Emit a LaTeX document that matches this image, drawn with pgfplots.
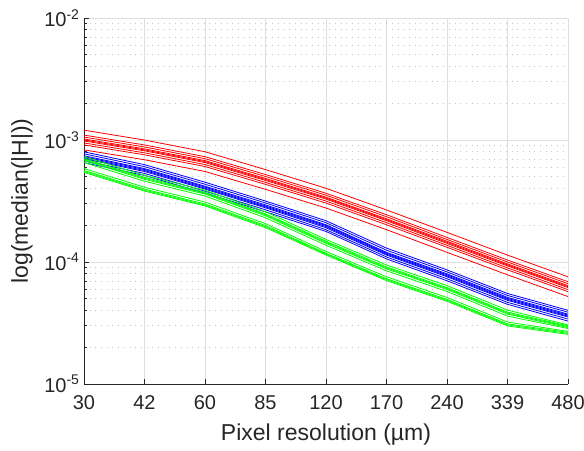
\documentclass[border=0pt]{standalone}
\usepackage{fontspec}
\setmainfont{Liberation Sans}
\usepackage{pgfplots}
\pgfplotsset{compat=1.18}

\definecolor{axgray}{gray}{0.15}
\definecolor{gridgray}{gray}{0.87}
\definecolor{mred}{rgb}{1,0,0}
\definecolor{mblue}{rgb}{0,0,1}
\definecolor{mgreen}{rgb}{0,1,0}

\begin{document}
\begin{tikzpicture}
\useasboundingbox (-84bp,-67bp) rectangle (500bp,384bp);
\begin{axis}[
    at={(0,0)}, anchor=south west,
    scale only axis, width=484bp, height=366bp,
    ymode=log, ymin=1e-5, ymax=1e-2,
    xmin=0, xmax=8,
    xtick={0,1,2,3,4,5,6,7,8},
    xticklabels={30,42,60,85,120,170,240,339,480},
    ytick={1e-5,1e-4,1e-3,1e-2},
    yticklabels={10\textsuperscript{-5},10\textsuperscript{-4},10\textsuperscript{-3},10\textsuperscript{-2}},
    axis x line*=bottom, axis y line*=left,
    axis line style={axgray, line width=0.7bp},
    every tick/.style={axgray, line width=0.7bp},
    tick align=inside,
    major tick length=5bp, minor tick length=3bp,
    xmajorgrids, ymajorgrids, yminorgrids,
    major grid style={gridgray, line width=0.7bp},
    minor grid style={gray!45, line width=0.7bp, dash pattern=on 0.7bp off 5bp},
    ticklabel style={font=\fontsize{20bp}{23bp}\selectfont, text=axgray},
    xticklabel style={yshift=-8bp},
    yticklabel style={xshift=-1bp},
    xlabel={Pixel resolution (µm)},
    ylabel={log(median(|H|))},
    label style={font=\fontsize{23bp}{26bp}\selectfont, text=axgray, inner sep=0pt},
    xlabel style={at={(axis description cs:0.5,-0.153)}, anchor=base},
    ylabel style={at={(axis description cs:-0.1054,0.5)}, anchor=south},
    every axis plot/.append style={line width=0.8bp, no markers},
]

% red group
\addplot[mred] coordinates {(0,1.204e-3)(1,9.99e-4)(2,8.01e-4)(3,5.72e-4)(4,4.02e-4)(5,2.67e-4)(6,1.75e-4)(7,1.139e-4)(8,7.56e-5)};
\addplot[mred] coordinates {(0,1.097e-3)(1,9.11e-4)(2,7.30e-4)(3,5.21e-4)(4,3.66e-4)(5,2.44e-4)(6,1.59e-4)(7,1.038e-4)(8,6.89e-5)};
\addplot[mred] coordinates {(0,1.057e-3)(1,8.77e-4)(2,7.03e-4)(3,5.02e-4)(4,3.53e-4)(5,2.35e-4)(6,1.53e-4)(7,1.000e-4)(8,6.64e-5)};
\addplot[mred] coordinates {(0,1.019e-3)(1,8.46e-4)(2,6.78e-4)(3,4.84e-4)(4,3.40e-4)(5,2.26e-4)(6,1.48e-4)(7,9.64e-5)(8,6.40e-5)};
\addplot[mred] coordinates {(0,1.000e-3)(1,8.30e-4)(2,6.65e-4)(3,4.75e-4)(4,3.34e-4)(5,2.22e-4)(6,1.45e-4)(7,9.46e-5)(8,6.28e-5)};
\addplot[mred] coordinates {(0,9.82e-4)(1,8.15e-4)(2,6.53e-4)(3,4.66e-4)(4,3.28e-4)(5,2.18e-4)(6,1.42e-4)(7,9.29e-5)(8,6.17e-5)};
\addplot[mred] coordinates {(0,9.46e-4)(1,7.85e-4)(2,6.29e-4)(3,4.49e-4)(4,3.16e-4)(5,2.10e-4)(6,1.37e-4)(7,8.95e-5)(8,5.94e-5)};
\addplot[mred] coordinates {(0,9.11e-4)(1,7.56e-4)(2,6.06e-4)(3,4.33e-4)(4,3.04e-4)(5,2.02e-4)(6,1.32e-4)(7,8.62e-5)(8,5.72e-5)};
\addplot[mred] coordinates {(0,8.30e-4)(1,6.89e-4)(2,5.52e-4)(3,3.94e-4)(4,2.77e-4)(5,1.84e-4)(6,1.20e-4)(7,7.85e-5)(8,5.21e-5)};

% blue group
\addplot[mblue] coordinates {(0,8.00e-4)(1,6.28e-4)(2,4.51e-4)(3,3.16e-4)(4,2.18e-4)(5,1.30e-4)(6,8.62e-5)(7,5.52e-5)(8,4.02e-5)};
\addplot[mblue] coordinates {(0,7.71e-4)(1,6.05e-4)(2,4.34e-4)(3,3.05e-4)(4,2.10e-4)(5,1.25e-4)(6,8.30e-5)(7,5.32e-5)(8,3.88e-5)};
\addplot[mblue] coordinates {(0,7.43e-4)(1,5.83e-4)(2,4.18e-4)(3,2.94e-4)(4,2.02e-4)(5,1.20e-4)(6,8.00e-5)(7,5.13e-5)(8,3.74e-5)};
\addplot[mblue] coordinates {(0,7.30e-4)(1,5.73e-4)(2,4.11e-4)(3,2.88e-4)(4,1.99e-4)(5,1.18e-4)(6,7.86e-5)(7,5.03e-5)(8,3.67e-5)};
\addplot[mblue] coordinates {(0,7.16e-4)(1,5.62e-4)(2,4.03e-4)(3,2.83e-4)(4,1.95e-4)(5,1.16e-4)(6,7.71e-5)(7,4.94e-5)(8,3.60e-5)};
\addplot[mblue] coordinates {(0,7.03e-4)(1,5.52e-4)(2,3.96e-4)(3,2.78e-4)(4,1.91e-4)(5,1.14e-4)(6,7.57e-5)(7,4.85e-5)(8,3.54e-5)};
\addplot[mblue] coordinates {(0,6.77e-4)(1,5.32e-4)(2,3.81e-4)(3,2.68e-4)(4,1.84e-4)(5,1.10e-4)(6,7.29e-5)(7,4.67e-5)(8,3.41e-5)};
\addplot[mblue] coordinates {(0,6.52e-4)(1,5.12e-4)(2,3.67e-4)(3,2.58e-4)(4,1.78e-4)(5,1.06e-4)(6,7.02e-5)(7,4.50e-5)(8,3.28e-5)};

% green group
\addplot[mgreen] coordinates {(0,7.30e-4)(1,5.13e-4)(2,3.87e-4)(3,2.58e-4)(4,1.53e-4)(5,9.45e-5)(6,6.40e-5)(7,4.03e-5)(8,3.05e-5)};
\addplot[mgreen] coordinates {(0,7.03e-4)(1,4.94e-4)(2,3.73e-4)(3,2.48e-4)(4,1.48e-4)(5,9.11e-5)(6,6.17e-5)(7,3.88e-5)(8,3.00e-5)};
\addplot[mgreen] coordinates {(0,6.90e-4)(1,4.85e-4)(2,3.66e-4)(3,2.44e-4)(4,1.45e-4)(5,8.94e-5)(6,6.06e-5)(7,3.81e-5)(8,2.95e-5)};
\addplot[mgreen] coordinates {(0,6.77e-4)(1,4.76e-4)(2,3.60e-4)(3,2.39e-4)(4,1.42e-4)(5,8.78e-5)(6,5.95e-5)(7,3.74e-5)(8,2.90e-5)};
\addplot[mgreen] coordinates {(0,6.53e-4)(1,4.59e-4)(2,3.47e-4)(3,2.30e-4)(4,1.37e-4)(5,8.46e-5)(6,5.73e-5)(7,3.60e-5)(8,2.85e-5)};
\addplot[mgreen] coordinates {(0,5.84e-4)(1,4.10e-4)(2,3.10e-4)(3,2.06e-4)(4,1.22e-4)(5,7.56e-5)(6,5.12e-5)(7,3.22e-5)(8,2.70e-5)};
\addplot[mgreen] coordinates {(0,5.63e-4)(1,3.96e-4)(2,2.99e-4)(3,1.99e-4)(4,1.18e-4)(5,7.29e-5)(6,4.94e-5)(7,3.11e-5)(8,2.65e-5)};
\addplot[mgreen] coordinates {(0,5.52e-4)(1,3.88e-4)(2,2.93e-4)(3,1.95e-4)(4,1.16e-4)(5,7.16e-5)(6,4.85e-5)(7,3.05e-5)(8,2.60e-5)};
\addplot[mgreen] coordinates {(0,5.42e-4)(1,3.81e-4)(2,2.88e-4)(3,1.91e-4)(4,1.14e-4)(5,7.03e-5)(6,4.76e-5)(7,2.99e-5)(8,2.55e-5)};

\end{axis}
\end{tikzpicture}
\end{document}
